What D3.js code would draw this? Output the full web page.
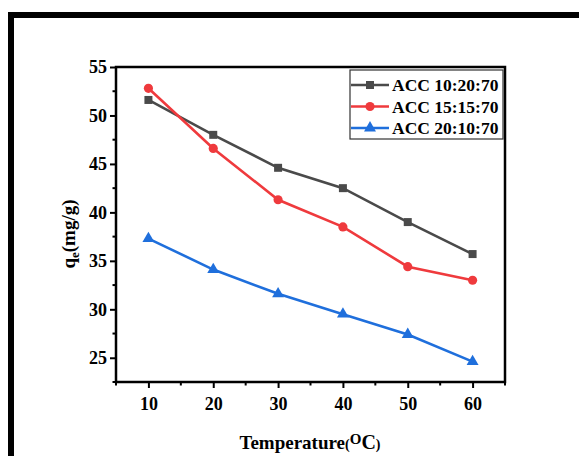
<!DOCTYPE html>
<html>
<head>
<meta charset="utf-8">
<script src="https://cdn.jsdelivr.net/npm/d3@7"></script>
</head>
<body style="margin:0">
<svg id="chart" width="579" height="456" font-family="Liberation Serif" font-weight="bold"></svg>
<script>
// Adsorption capacity vs temperature for three ACC compositions
const temperatures = [10, 20, 30, 40, 50, 60];
const acc102070 = [51.6, 48.0, 44.6, 42.5, 39.0, 35.7];
const acc151570 = [52.8, 46.6, 41.3, 38.5, 34.4, 33.0];
const acc201070 = [37.3, 34.1, 31.6, 29.5, 27.4, 24.6];
const seriesNames = ["ACC 10:20:70", "ACC 15:15:70", "ACC 20:10:70"];
const xTicks = [10, 20, 30, 40, 50, 60];
const yTicks = [25, 30, 35, 40, 45, 50, 55];

const FONT = "Liberation Serif";

const series = [
  { name: seriesNames[0], values: acc102070, color: "#4a4a4a", symbol: d3.symbolSquare, size: 64 },
  { name: seriesNames[1], values: acc151570, color: "#ef3a3d", symbol: d3.symbolCircle, size: 66 },
  { name: seriesNames[2], values: acc201070, color: "#1f6fdc", symbol: d3.symbolTriangle, size: 62 }
];

const svg = d3.select("#chart");
svg.append("rect").attr("width", 579).attr("height", 456).attr("fill", "#fff");

// outer frame strokes (top and left)
svg.append("rect").attr("x", 8).attr("y", 12).attr("width", 571).attr("height", 6).attr("fill", "#000");
svg.append("rect").attr("x", 8).attr("y", 12).attr("width", 6).attr("height", 444).attr("fill", "#000");

const plot = { left: 116, right: 505, top: 67, bottom: 382 };

const x = d3.scaleLinear().domain([5, 65]).range([plot.left, plot.right]);
const y = d3.scaleLinear().domain([22.5, 55]).range([plot.bottom, plot.top]);

// minor ticks
const xMinor = d3.range(5, 66, 5).filter(v => !xTicks.includes(v));
const yMinor = d3.range(22.5, 55, 2.5).filter(v => !yTicks.includes(v));

const g = svg.append("g");

g.selectAll(".xminor").data(xMinor).join("line")
  .attr("x1", d => x(d)).attr("x2", d => x(d))
  .attr("y1", plot.bottom).attr("y2", plot.bottom + 3.5)
  .attr("stroke", "#000").attr("stroke-width", 2);
g.selectAll(".yminor").data(yMinor).join("line")
  .attr("y1", d => y(d)).attr("y2", d => y(d))
  .attr("x1", plot.left).attr("x2", plot.left - 3.5)
  .attr("stroke", "#000").attr("stroke-width", 2);

// axes
const xAxis = d3.axisBottom(x).tickValues(xTicks).tickSize(6).tickPadding(9).tickFormat(d3.format("d"));
const yAxis = d3.axisLeft(y).tickValues(yTicks).tickSize(6).tickPadding(3).tickFormat(d3.format("d"));

const gx = svg.append("g").attr("transform", `translate(0,${plot.bottom})`).call(xAxis);
const gy = svg.append("g").attr("transform", `translate(${plot.left},0)`).call(yAxis);
[gx, gy].forEach(a => {
  a.attr("font-family", FONT).attr("font-size", 18).attr("font-weight", "bold");
  a.select(".domain").remove();
  a.selectAll(".tick line").attr("stroke", "#000").attr("stroke-width", 2);
  a.selectAll(".tick text")
    .attr("font-family", FONT).attr("font-weight", "bold").attr("font-size", 18)
    .attr("fill", "#000");
});

// frame box
svg.append("rect")
  .attr("x", plot.left).attr("y", plot.top)
  .attr("width", plot.right - plot.left).attr("height", plot.bottom - plot.top)
  .attr("fill", "none").attr("stroke", "#000").attr("stroke-width", 2.5);

// series lines and markers
const line = d3.line().x((d, i) => x(temperatures[i])).y(d => y(d));
series.forEach(s => {
  svg.append("path").datum(s.values)
    .attr("d", line).attr("fill", "none")
    .attr("stroke", s.color).attr("stroke-width", 2.6);
  svg.selectAll(null).data(s.values).join("path")
    .attr("d", d3.symbol().type(s.symbol).size(s.size))
    .attr("transform", (d, i) => `translate(${x(temperatures[i])},${y(d)})`)
    .attr("fill", s.color);
});

// legend
const lg = svg.append("g");
lg.append("rect").attr("x", 350).attr("y", 70).attr("width", 153).attr("height", 69)
  .attr("fill", "#fff").attr("stroke", "#333").attr("stroke-width", 1.2);
series.forEach((s, i) => {
  const cy = 85 + i * 21.5;
  lg.append("line").attr("x1", 351).attr("x2", 389).attr("y1", cy).attr("y2", cy)
    .attr("stroke", s.color).attr("stroke-width", 2.6);
  lg.append("path").attr("d", d3.symbol().type(s.symbol).size(s.size)())
    .attr("transform", `translate(370,${cy})`).attr("fill", s.color);
  lg.append("text").attr("x", 392).attr("y", cy + 6)
    .attr("font-family", FONT).attr("font-weight", "bold").attr("font-size", 17.5)
    .text(s.name);
});

// axis titles
const xt = svg.append("text").attr("x", 310).attr("y", 449).attr("text-anchor", "middle")
  .attr("font-family", FONT).attr("font-weight", "bold").attr("font-size", 19);
xt.append("tspan").text("Temperature");
xt.append("tspan").attr("font-size", 14).text("(");
xt.append("tspan").attr("font-size", 15).attr("dy", -5).text("O");
xt.append("tspan").attr("font-size", 20).attr("dy", 5).text("C");
xt.append("tspan").attr("font-size", 14).text(")");

const yt = svg.append("text").attr("transform", "translate(75,234) rotate(-90)").attr("text-anchor", "middle")
  .attr("font-family", FONT).attr("font-weight", "bold").attr("font-size", 19);
yt.append("tspan").text("q");
yt.append("tspan").attr("font-size", 13).attr("dy", 4).text("e");
yt.append("tspan").attr("dy", -4).text("(mg/g)");
</script>
</body>
</html>
